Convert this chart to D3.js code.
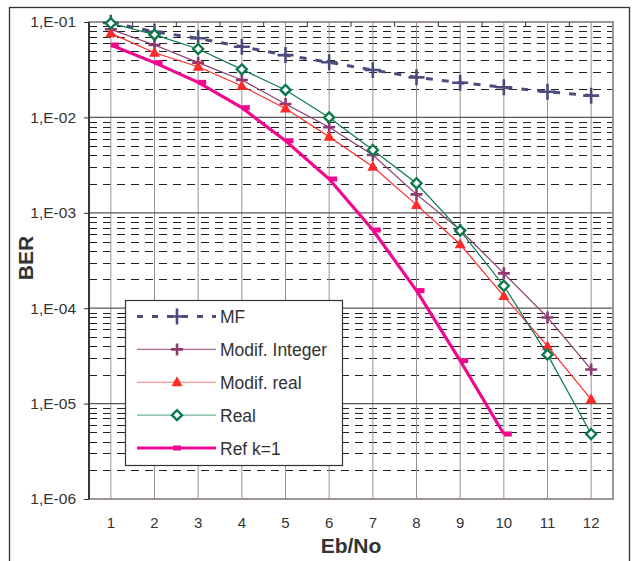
<!DOCTYPE html>
<html><head><meta charset="utf-8">
<script src="https://cdn.jsdelivr.net/npm/d3@7"></script>
<style>body{margin:0;background:#fff;} svg{display:block;font-family:"Liberation Sans",Arial,sans-serif;}</style>
</head><body>
<svg id="c" width="635" height="561"></svg>
<script>
const categories = [1,2,3,4,5,6,7,8,9,10,11,12];
const yTickValues = [1e-1,1e-2,1e-3,1e-4,1e-5,1e-6];
const yTickLabels = ["1,E-01","1,E-02","1,E-03","1,E-04","1,E-05","1,E-06"];
const mf = [0.098,0.079,0.0675,0.055,0.045,0.0378,0.0314,0.0263,0.0231,0.0207,0.0186,0.0169];
const modifInteger = [0.0838,0.0574,0.0375,0.0247,0.0138,0.00787,0.00403,0.00156,0.00066,0.000232,0.00008,0.0000228];
const modifReal = [0.076,0.0476,0.034,0.0213,0.0124,0.00628,0.00304,0.00121,0.000468,0.000134,0.00004,0.0000111];
const real = [0.097,0.0736,0.0521,0.0319,0.0194,0.01,0.00455,0.00204,0.00065,0.000172,0.0000326,0.0000048];
const refK1 = [0.0574,0.0375,0.0233,0.01264,0.0057,0.00226,0.00066,0.000153,0.0000282,0.0000048];
const seriesNames = ["MF","Modif. Integer","Modif. real","Real","Ref k=1"];

const series = [
  {name:seriesNames[0], values:mf, color:"#4d4b7d", legendColor:"#4d4b7d", width:3, dash:"7,9", marker:"bigplus"},
  {name:seriesNames[1], values:modifInteger, color:"#8e3a72", legendColor:"#a86a96", width:1.2, dash:null, marker:"plus"},
  {name:seriesNames[2], values:modifReal, color:"#ff2a2a", legendColor:"#f47b7b", width:1.2, dash:null, marker:"tri"},
  {name:seriesNames[3], values:real, color:"#0d7a4e", legendColor:"#6cb394", width:1.2, dash:null, marker:"diamond"},
  {name:seriesNames[4], values:refK1, color:"#f0088f", legendColor:"#f0088f", width:3.2, dash:null, marker:"rect"}
];

const svg = d3.select("#c");
const L=89, R=613, T=22, B=499;
const x = d3.scaleBand().domain(categories).range([L,R]);
const cx = d => x(d)+x.bandwidth()/2;
const y = d3.scaleLog().domain([1e-6,1e-1]).range([B,T]);

// outer frame
svg.append("rect").attr("x",9.5).attr("y",7.5).attr("width",620).attr("height",570)
  .attr("fill","none").attr("stroke","#333").attr("stroke-width",1.3);

// minor gridlines
const minors=[];
for(let e=-6;e<-1;e++) for(let m=2;m<=9;m++) minors.push(m*Math.pow(10,e));
svg.append("g").selectAll("line").data(minors).join("line")
  .attr("x1",L).attr("x2",R).attr("y1",d=>Math.round(y(d))+0.5).attr("y2",d=>Math.round(y(d))+0.5)
  .attr("stroke","#222").attr("stroke-width",1).attr("stroke-dasharray","8,6");

// vertical gridlines
svg.append("g").selectAll("line").data(categories).join("line")
  .attr("x1",d=>cx(d)).attr("x2",d=>cx(d)).attr("y1",T).attr("y2",B)
  .attr("stroke","#9e9090").attr("stroke-width",1);

// major gridlines
svg.append("g").selectAll("line").data(yTickValues).join("line")
  .attr("x1",L).attr("x2",R).attr("y1",d=>y(d)).attr("y2",d=>y(d))
  .attr("stroke","#5a5656").attr("stroke-width",1.2);

// plot border
svg.append("rect").attr("x",L).attr("y",T).attr("width",R-L).attr("height",B-T)
  .attr("fill","none").attr("stroke","#9e9494").attr("stroke-width",2);
svg.append("line").attr("x1",L).attr("x2",L).attr("y1",T).attr("y2",B).attr("stroke","#3a3636").attr("stroke-width",2);

// top ticks at category boundaries
svg.append("g").selectAll("line").data(categories.slice(1)).join("line")
  .attr("x1",d=>x(d)).attr("x2",d=>x(d)).attr("y1",T).attr("y2",T+5)
  .attr("stroke","#333").attr("stroke-width",1);

// y axis
const yAxis = d3.axisLeft(y).tickValues(yTickValues).tickSize(5).tickFormat((d,i)=>yTickLabels[i]);
const ya = svg.append("g").attr("transform",`translate(${L},0)`).call(yAxis);
ya.select(".domain").remove();
ya.selectAll("line").attr("stroke","#333");
ya.selectAll("text").attr("font-size",15.5).attr("fill","#333").attr("x",-13).attr("font-family","Liberation Sans, Arial, sans-serif");

// x axis
const xAxis = d3.axisBottom(x).tickSize(0).tickPadding(18);
const xa = svg.append("g").attr("transform",`translate(0,${B})`).call(xAxis);
xa.select(".domain").remove();
xa.selectAll("text").attr("font-size",15).attr("fill","#333").attr("font-family","Liberation Sans, Arial, sans-serif");

// titles
svg.append("text").attr("x",351).attr("y",553).attr("text-anchor","middle")
  .attr("font-size",21).attr("font-weight","bold").attr("fill","#333").text("Eb/No");
svg.append("text").attr("transform","translate(33,258) rotate(-90)").attr("text-anchor","middle")
  .attr("font-size",21).attr("font-weight","bold").attr("fill","#333").text("BER");

function drawMarker(g, type, px, py, color){
  if(type==="bigplus"){
    g.append("path").attr("d",`M${px-8},${py}H${px+8}M${px},${py-8}V${py+8}`).attr("stroke",color).attr("stroke-width",2.6).attr("fill","none");
  } else if(type==="plus"){
    g.append("path").attr("d",`M${px-6},${py}H${px+6}M${px},${py-6}V${py+6}`).attr("stroke",color).attr("stroke-width",2.6).attr("fill","none");
  } else if(type==="tri"){
    g.append("path").attr("d",`M${px},${py-6}L${px+5.5},${py+4}L${px-5.5},${py+4}Z`).attr("fill",color);
  } else if(type==="diamond"){
    g.append("path").attr("d",`M${px},${py-5}L${px+5},${py}L${px},${py+5}L${px-5},${py}Z`).attr("fill","#fff").attr("stroke",color).attr("stroke-width",2.4);
  } else if(type==="rect"){
    g.append("rect").attr("x",px).attr("y",py-2.5).attr("width",8).attr("height",5).attr("fill",color);
  }
}

const line = d3.line().x(d=>cx(d.c)).y(d=>y(d.v));
series.forEach(s=>{
  const g = svg.append("g");
  const pts = s.values.map((v,i)=>({c:categories[i],v}));
  g.append("path").attr("d",line(pts)).attr("fill","none").attr("stroke",s.color)
    .attr("stroke-width",s.width).attr("stroke-dasharray",s.dash);
  pts.forEach(p=>drawMarker(g,s.marker,cx(p.c),y(p.v),s.color));
});

// legend
const lg = svg.append("g");
lg.append("rect").attr("x",125.5).attr("y",300.5).attr("width",217).attr("height",165)
  .attr("fill","#fff").attr("stroke","#333").attr("stroke-width",1.2);
const ly = d3.scalePoint().domain(seriesNames).range([316.5,448]);
series.forEach(s=>{
  const yy = ly(s.name);
  lg.append("line").attr("x1",137).attr("x2",216).attr("y1",yy).attr("y2",yy)
    .attr("stroke",s.legendColor).attr("stroke-width",s.width).attr("stroke-dasharray",s.dash?"6,9":null);
  drawMarker(lg,s.marker,s.marker==="rect"?173:177,yy,s.color);
  lg.append("text").attr("x",220).attr("y",yy+6.5).attr("font-size",17.5).attr("fill","#333").text(s.name);
});
</script>
</body></html>
